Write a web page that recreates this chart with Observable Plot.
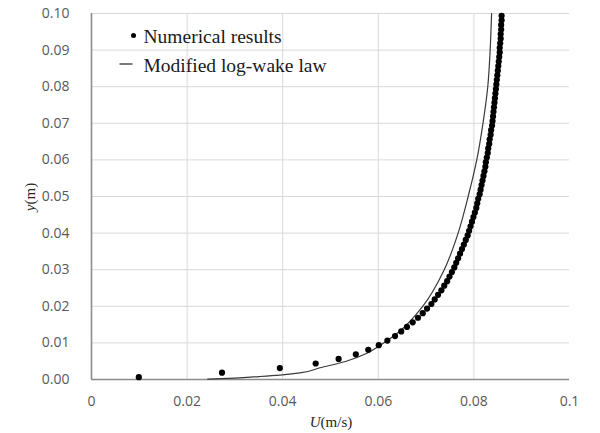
<!DOCTYPE html>
<html>
<head>
<meta charset="utf-8">
<script src="https://cdn.jsdelivr.net/npm/d3@7"></script>
<script src="https://cdn.jsdelivr.net/npm/@observablehq/plot@0.6"></script>
<style>
  html, body { margin: 0; padding: 0; background: white; }
</style>
</head>
<body>
<div id="chart"></div>
<script>
// Numerical results: y (m) and U (m/s)
const numY = [0.000625,0.001875,0.003125,0.004375,0.005625,0.006875,0.008125,0.009375,0.010625,0.011875,
  0.013125,0.014375,0.015625,0.016875,0.018125,0.019375,0.020625,0.021875,0.023125,0.024375,
  0.025625,0.026875,0.028125,0.029375,0.030625,0.031875,0.033125,0.034375,0.035625,0.036875,
  0.038125,0.039375,0.040625,0.041875,0.043125,0.044375,0.045625,0.046875,0.048125,0.049375,
  0.050625,0.051875,0.053125,0.054375,0.055625,0.056875,0.058125,0.059375,0.060625,0.061875,
  0.063125,0.064375,0.065625,0.066875,0.068125,0.069375,0.070625,0.071875,0.073125,0.074375,
  0.075625,0.076875,0.078125,0.079375,0.080625,0.081875,0.083125,0.084375,0.085625,0.086875,
  0.088125,0.089375,0.090625,0.091875,0.093125,0.094375,0.095625,0.096875,0.098125,0.099375];
const numU = [0.0099,0.0273,0.0394,0.0469,0.0517,0.0553,0.0579,0.0601,0.0619,0.0635,
  0.0648,0.0660,0.0672,0.0683,0.0693,0.0702,0.0711,0.0718,0.0725,0.0732,
  0.0738,0.0744,0.0749,0.0754,0.0759,0.0763,0.0767,0.0771,0.0775,0.0779,
  0.0783,0.0787,0.0790,0.0793,0.0796,0.0799,0.0802,0.0805,0.0807,0.0809,
  0.0812,0.0814,0.0816,0.0818,0.0820,0.0822,0.0824,0.0825,0.0827,0.0829,
  0.0830,0.0832,0.0833,0.0835,0.0836,0.0838,0.0839,0.0840,0.0841,0.0842,
  0.0843,0.0844,0.0845,0.0846,0.0847,0.0848,0.0849,0.0850,0.0851,0.0852,
  0.0853,0.0854,0.0854,0.0855,0.0856,0.0856,0.0857,0.0857,0.0858,0.0858];

// Modified log-wake law: y (m) and U (m/s)
const lawY = [0.0001,0.0004,0.0008,0.0012,0.0018,0.0032,0.0050,0.0071,0.0091,0.0130,
  0.0200,0.0300,0.0400,0.0500,0.0600,0.0700,0.0800,0.0900,0.1000];
const lawU = [0.0243,0.0300,0.0350,0.0394,0.0436,0.0478,0.0533,0.0575,0.0601,0.0643,
  0.0693,0.0738,0.0767,0.0788,0.0806,0.0819,0.0829,0.0834,0.0837];

// Tick values and labels
const xTicks = [0, 0.02, 0.04, 0.06, 0.08, 0.1];
const xTickLabels = ["0", "0.02", "0.04", "0.06", "0.08", "0.1"];
const xGrid = [0.02, 0.04, 0.06, 0.08];
const yTicks = [0, 0.01, 0.02, 0.03, 0.04, 0.05, 0.06, 0.07, 0.08, 0.09, 0.1];
const yTickLabels = ["0.00","0.01","0.02","0.03","0.04","0.05","0.06","0.07","0.08","0.09","0.10"];

const legendLabels = ["Numerical results", "Modified log-wake law"];

const numData = numY.map((y, i) => ({y, u: numU[i]}));
const lawData = lawY.map((y, i) => ({y, u: lawU[i]}));

const dashSymbol = {
  draw(context, size) {
    context.moveTo(-6.5, 0);
    context.lineTo(6.5, 0);
  }
};

const serif = "'Liberation Serif', 'Times New Roman', serif";

const chart = Plot.plot({
  width: 600,
  height: 433,
  marginLeft: 91,
  marginRight: 31,
  marginTop: 13,
  marginBottom: 54,
  style: {fontFamily: "'Open Sans', sans-serif", fontSize: "14px", color: "#595959", background: "white"},
  x: {domain: [0, 0.1]},
  y: {domain: [0, 0.1]},
  marks: [
    Plot.gridX(xGrid, {stroke: "#d9d9d9", strokeOpacity: 1}),
    Plot.gridY(yTicks, {stroke: "#d9d9d9", strokeOpacity: 1}),
    Plot.axisX(xTicks, {tickSize: 0, tickPadding: 17, label: null,
      tickFormat: (d) => xTickLabels[xTicks.indexOf(d)]}),
    Plot.axisY(yTicks, {tickSize: 0, tickPadding: 22, label: null,
      tickFormat: (d) => yTickLabels[yTicks.indexOf(d)]}),
    Plot.ruleY([0], {stroke: "#8c8c8c", strokeWidth: 1.6}),
    Plot.ruleX([0], {stroke: "#8c8c8c", strokeWidth: 1.6}),
    Plot.line(lawData, {x: "u", y: "y", curve: "monotone-y", stroke: "#3a3a3a", strokeWidth: 1.2}),
    Plot.dot(numData, {x: "u", y: "y", r: 3.1, fill: "black", stroke: "none"}),
    // legend
    Plot.dot([legendLabels[0]], {frameAnchor: "top-left", dx: 42, dy: 22, r: 2.5, fill: "black", stroke: "none"}),
    Plot.dot([legendLabels[1]], {frameAnchor: "top-left", dx: 34.5, dy: 50.5, symbol: dashSymbol, r: 5, stroke: "#222", strokeWidth: 1.2, fill: "none"}),
    Plot.text([legendLabels[0]], {text: (d) => d, frameAnchor: "top-left", dx: 52, dy: 23.3, textAnchor: "start", lineAnchor: "middle",
      fontFamily: serif, fontSize: 19.5, fill: "#1a1a1a"}),
    Plot.text([legendLabels[1]], {text: (d) => d, frameAnchor: "top-left", dx: 52, dy: 52.6, textAnchor: "start", lineAnchor: "middle",
      fontFamily: serif, fontSize: 19.5, fill: "#1a1a1a"})
  ]
});

document.getElementById("chart").appendChild(chart);

// Axis titles with italic variable letters
const svg = d3.select(chart);
const xt = svg.append("text")
  .attr("x", 331).attr("y", 427)
  .attr("text-anchor", "middle")
  .attr("font-family", serif).attr("font-size", 15).attr("fill", "#262626");
xt.append("tspan").attr("font-style", "italic").text("U");
xt.append("tspan").text("(m/s)");

const yt = svg.append("text")
  .attr("transform", "translate(35,197) rotate(-90)")
  .attr("text-anchor", "middle")
  .attr("font-family", serif).attr("font-size", 15).attr("fill", "#262626");
yt.append("tspan").attr("font-style", "italic").text("y");
yt.append("tspan").text("(m)");
</script>
</body>
</html>
